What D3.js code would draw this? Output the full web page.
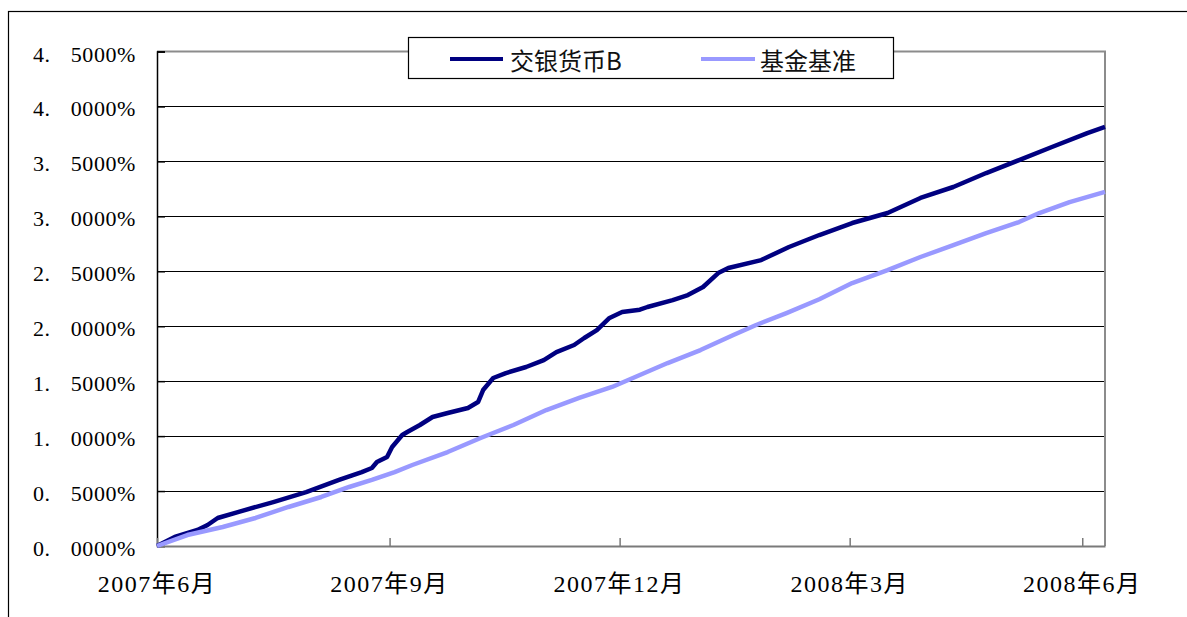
<!DOCTYPE html>
<html>
<head>
<meta charset="utf-8">
<script src="https://cdn.jsdelivr.net/npm/d3@7"></script>
<style>
  html, body { margin: 0; padding: 0; background: #fff; }
  svg { display: block; }
</style>
</head>
<body>
<svg id="chart" width="1187" height="617"></svg>
<script>
// ---- data ----
const seriesNames = ["交银货币B", "基金基准"];

const fundDates = ["2007-06-01","2007-06-08","2007-06-17","2007-06-21","2007-06-25","2007-07-03","2007-07-17","2007-07-30","2007-08-12","2007-08-21","2007-08-25","2007-08-27","2007-08-31","2007-09-02","2007-09-06","2007-09-08","2007-09-13","2007-09-18","2007-09-24","2007-10-02","2007-10-06","2007-10-08","2007-10-12","2007-10-17","2007-10-25","2007-11-01","2007-11-06","2007-11-13","2007-11-17","2007-11-22","2007-11-27","2007-12-02","2007-12-09","2007-12-12","2007-12-22","2007-12-28","2008-01-03","2008-01-09","2008-01-13","2008-01-26","2008-02-06","2008-02-18","2008-03-02","2008-03-16","2008-03-29","2008-04-11","2008-04-24","2008-05-07","2008-05-20","2008-06-03","2008-06-10"];
const fundValues = [0.000,0.082,0.146,0.191,0.255,0.309,0.400,0.491,0.601,0.673,0.710,0.764,0.810,0.901,1.010,1.037,1.101,1.174,1.210,1.256,1.310,1.419,1.529,1.574,1.629,1.692,1.765,1.829,1.893,1.965,2.075,2.129,2.150,2.175,2.238,2.284,2.357,2.484,2.530,2.602,2.721,2.830,2.939,3.030,3.167,3.267,3.394,3.512,3.631,3.758,3.813];

const benchDates = ["2007-06-01","2007-06-13","2007-06-27","2007-07-10","2007-07-23","2007-08-05","2007-08-16","2007-08-25","2007-09-03","2007-09-10","2007-09-24","2007-10-07","2007-10-20","2007-11-02","2007-11-15","2007-11-28","2007-12-09","2007-12-20","2008-01-02","2008-01-15","2008-01-24","2008-02-05","2008-02-18","2008-03-02","2008-03-16","2008-03-29","2008-04-11","2008-04-24","2008-05-07","2008-05-15","2008-05-27","2008-06-10"];
const benchValues = [0.000,0.100,0.173,0.255,0.355,0.446,0.537,0.601,0.673,0.737,0.855,0.983,1.101,1.237,1.347,1.447,1.556,1.665,1.783,1.920,2.011,2.120,2.245,2.393,2.511,2.630,2.739,2.848,2.948,3.030,3.130,3.222];

const xTickDates = ["2007-06-01","2007-09-01","2007-12-01","2008-03-01","2008-06-01"];
const xTickLabels = ["2007年6月","2007年9月","2007年12月","2008年3月","2008年6月"];
const yTicks = [0,0.5,1.0,1.5,2.0,2.5,3.0,3.5,4.0,4.5];
const xDomain = ["2007-06-01","2008-06-10"];

// ---- layout ----
const parse = d3.timeParse("%Y-%m-%d");
const L = 157, R = 1105, T = 51.5, B = 546;
const svg = d3.select("#chart");

const x = d3.scaleTime().domain(xDomain.map(parse)).range([L, R]);
const y = d3.scaleLinear().domain([0, 4.5]).range([B, T]);

// outer frame
svg.append("rect").attr("x", 8.5).attr("y", 11.5).attr("width", 1300).attr("height", 700)
  .attr("fill", "#fff").attr("stroke", "#000").attr("stroke-width", 1.2);

// gridlines
svg.append("g").selectAll("line").data(yTicks.filter(v => v > 0 && v < 4.5)).join("line")
  .attr("x1", L).attr("x2", R)
  .attr("y1", d => Math.round(y(d)) + 0.5).attr("y2", d => Math.round(y(d)) + 0.5)
  .attr("stroke", "#000").attr("stroke-width", 1.2);

// plot border top/right (gray)
svg.append("line").attr("x1", L).attr("x2", R + 1).attr("y1", T).attr("y2", T)
  .attr("stroke", "#8c8c8c").attr("stroke-width", 2);
svg.append("line").attr("x1", R).attr("x2", R).attr("y1", T).attr("y2", B)
  .attr("stroke", "#8c8c8c").attr("stroke-width", 2);

// y axis (ticks inside)
const yAxis = d3.axisRight(y).tickValues(yTicks).tickSize(8).tickFormat("");
const gy = svg.append("g").attr("transform", `translate(${L},0)`).call(yAxis);
gy.select(".domain").attr("stroke", "#000").attr("stroke-width", 1.5);
gy.selectAll(".tick line").attr("stroke", "#000").attr("stroke-width", 1.5);

// x axis (ticks inside)
const xAxis = d3.axisTop(x).tickValues(xTickDates.map(parse)).tickSize(8).tickSizeOuter(0).tickFormat("");
const gx = svg.append("g").attr("transform", `translate(0,${B})`).call(xAxis);
gx.select(".domain").attr("stroke", "#7a7a7a").attr("stroke-width", 2);
gx.selectAll(".tick line").attr("stroke", "#7a7a7a").attr("stroke-width", 1.5);

// y labels
const fmt = d3.format(".4f");
const yl = svg.append("g").selectAll("text").data(yTicks).join("text")
  .attr("x", 33).attr("y", d => y(d) + 10)
  .attr("font-family", "'Liberation Serif', serif").attr("font-size", 22)
  .attr("letter-spacing", 0.6).attr("fill", "#000");
yl.each(function(d) {
  const s = fmt(d) + "%";
  const i = s.indexOf(".");
  const t = d3.select(this);
  t.append("tspan").text(s.slice(0, i + 1));
  t.append("tspan").attr("dx", 20).text(s.slice(i + 1));
});

// x labels
svg.append("g").selectAll("text").data(xTickDates).join("text")
  .attr("x", d => x(parse(d))).attr("y", 592)
  .attr("text-anchor", "middle")
  .attr("font-family", "'Liberation Serif', 'Noto Sans CJK SC', serif").attr("font-size", 24)
  .attr("letter-spacing", 1.5).attr("fill", "#000")
  .text((d, i) => xTickLabels[i]);

// lines
const line = d3.line().x(d => x(d[0])).y(d => y(d[1]));
const fundData = fundDates.map((d, i) => [parse(d), fundValues[i]]);
const benchData = benchDates.map((d, i) => [parse(d), benchValues[i]]);
const colors = ["#000080", "#9999ff"];

svg.append("path").datum(fundData).attr("d", line).attr("fill", "none")
  .attr("stroke", colors[0]).attr("stroke-width", 4.5).attr("stroke-linejoin", "round");
svg.append("path").datum(benchData).attr("d", line).attr("fill", "none")
  .attr("stroke", colors[1]).attr("stroke-width", 4.5).attr("stroke-linejoin", "round");

// legend
const lg = svg.append("g");
lg.append("rect").attr("x", 408.5).attr("y", 37.5).attr("width", 485).attr("height", 41)
  .attr("fill", "#fff").attr("stroke", "#000").attr("stroke-width", 1.2);
const legX = [[450, 503, 510], [701, 755, 760]];
seriesNames.forEach((name, i) => {
  lg.append("line").attr("x1", legX[i][0]).attr("x2", legX[i][1]).attr("y1", 59).attr("y2", 59)
    .attr("stroke", colors[i]).attr("stroke-width", 4);
  lg.append("text").attr("x", legX[i][2]).attr("y", 59).attr("dominant-baseline", "central")
    .attr("font-family", "'Noto Sans CJK SC', 'Liberation Serif', sans-serif").attr("font-size", 24)
    .attr("fill", "#111").text(name);
});
</script>
</body>
</html>
